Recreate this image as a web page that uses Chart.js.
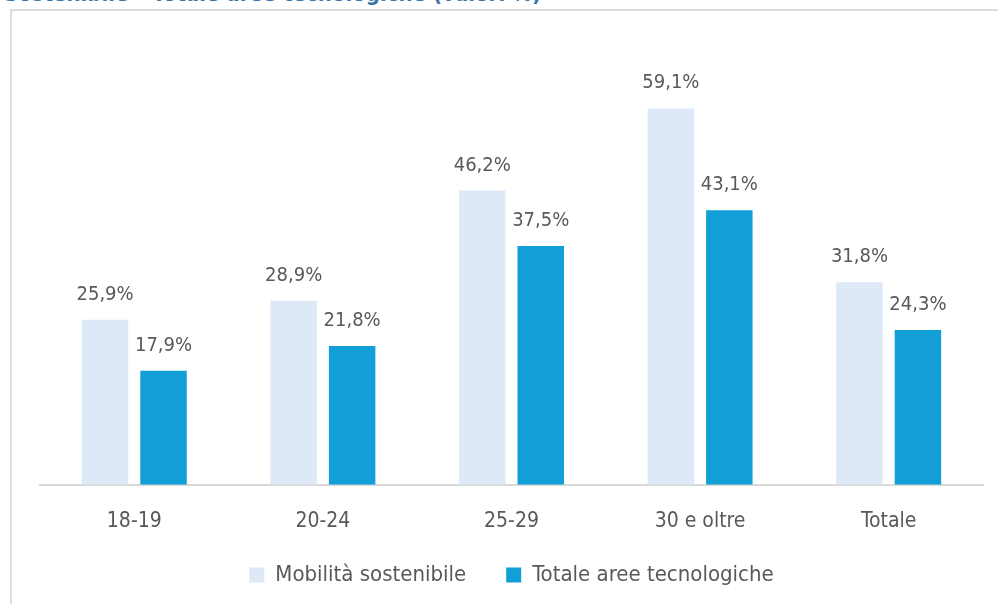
<!DOCTYPE html>
<html>
<head>
<meta charset="utf-8">
<script src="https://cdn.jsdelivr.net/npm/chart.js@4"></script>
<style>
  html, body { margin: 0; padding: 0; background: #fff; overflow: hidden; }
  #title {
    position: absolute; left: 4px; top: -19px; white-space: nowrap;
    font: bold 22px 'DejaVu Sans Condensed', 'Open Sans', sans-serif; color: #3a75a8;
  }
  #frame {
    position: absolute; left: 10px; top: 9px; width: 1020px; height: 620px;
    border: 2px solid #dcdcdc; box-sizing: border-box;
  }
  #wrap { position: absolute; left: 0; top: 0; width: 998px; height: 604px; }
</style>
</head>
<body>
<div id="title">Sostenibile – Totale aree tecnologiche (valori %)</div>
<div id="frame"></div>
<div id="wrap"><canvas id="chart" width="998" height="604"></canvas></div>
<script>
const categories = ['18-19', '20-24', '25-29', '30 e oltre', 'Totale'];
const mobilita = [25.9, 28.9, 46.2, 59.1, 31.8];
const totaleAree = [17.9, 21.8, 37.5, 43.1, 24.3];
const seriesNames = ['Mobilità sostenibile', 'Totale aree tecnologiche'];

const FONT = "'Liberation Sans Narrow', 'DejaVu Sans Condensed', 'Open Sans', sans-serif";
const TEXT = '#595959';

// value labels above each bar, Italian decimal comma
const barLabels = {
    id: 'barLabels',
    afterDatasetsDraw(chart) {
        const ctx = chart.ctx;
        ctx.save();
        ctx.font = '20px ' + FONT;
        ctx.fillStyle = TEXT;
        ctx.textAlign = 'center';
        ctx.textBaseline = 'alphabetic';
        chart.data.datasets.forEach((ds, i) => {
            chart.getDatasetMeta(i).data.forEach((bar, j) => {
                const txt = ds.data[j].toFixed(1).replace('.', ',') + '%';
                ctx.fillText(txt, bar.x, bar.y - 20);
            });
        });
        ctx.restore();
    }
};

// pull the legend a bit closer to the axis labels
const legendShift = {
    id: 'legendShift',
    afterLayout(chart) {
        chart.legend.top -= 34;
        chart.legend.bottom -= 34;
    }
};

new Chart(document.getElementById('chart'), {
    type: 'bar',
    data: {
        labels: categories,
        datasets: [
            { label: seriesNames[0], data: mobilita, backgroundColor: '#dde9f6' },
            { label: seriesNames[1], data: totaleAree, backgroundColor: '#129fd7' }
        ]
    },
    options: {
        responsive: false,
        animation: false,
        devicePixelRatio: 1,
        categoryPercentage: 0.62,
        barPercentage: 0.795,
        layout: { padding: { left: 40, right: 15, top: 39, bottom: -26 } },
        plugins: {
            legend: {
                position: 'bottom',
                labels: {
                    boxWidth: 15, boxHeight: 15, padding: 40,
                    color: TEXT, font: { size: 22, family: FONT }
                }
            },
            tooltip: { enabled: false }
        },
        scales: {
            x: {
                grid: { display: false, drawTicks: false },
                border: { color: '#d9d9d9', width: 2 },
                ticks: { color: TEXT, padding: 24, font: { size: 21, family: FONT } }
            },
            y: { display: false, min: 0, max: 70 }
        }
    },
    plugins: [barLabels, legendShift]
});
</script>
</body>
</html>
